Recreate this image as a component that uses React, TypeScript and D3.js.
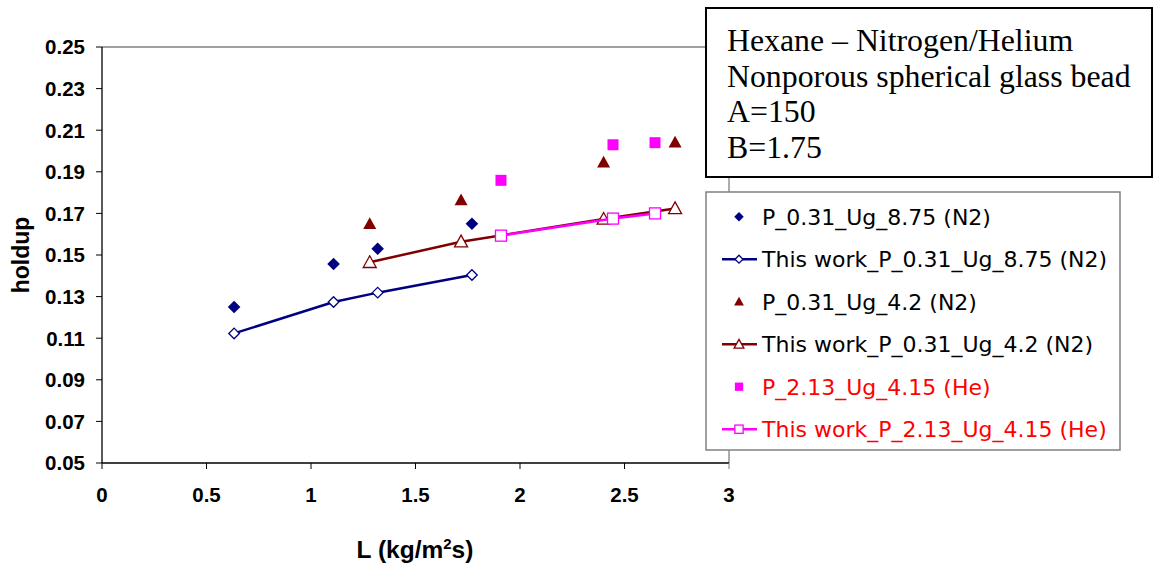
import React from "react";
import * as d3 from "d3";

const xTicks = [0, 0.5, 1, 1.5, 2, 2.5, 3];
const yTicks = [0.05, 0.07, 0.09, 0.11, 0.13, 0.15, 0.17, 0.19, 0.21, 0.23, 0.25];

const n2HighX = [0.632, 1.108, 1.319, 1.77];
const n2HighExp = [0.125, 0.1457, 0.153, 0.165];
const n2HighModel = [0.1123, 0.1274, 0.1319, 0.1404];

const n2LowX = [1.281, 1.718, 2.4, 2.742];
const n2LowExp = [0.165, 0.1764, 0.1946, 0.2042];
const n2LowModel = [0.1465, 0.1564, 0.1673, 0.1724];

const heX = [1.909, 2.445, 2.646];
const heExp = [0.1859, 0.203, 0.204];
const heModel = [0.1593, 0.1675, 0.17];

const legendLabels = [
  "P_0.31_Ug_8.75 (N2)",
  "This work_P_0.31_Ug_8.75 (N2)",
  "P_0.31_Ug_4.2 (N2)",
  "This work_P_0.31_Ug_4.2 (N2)",
  "P_2.13_Ug_4.15 (He)",
  "This work_P_2.13_Ug_4.15 (He)",
];
const infoLines = ["Hexane \u2013 Nitrogen/Helium", "Nonporous spherical glass bead", "A=150", "B=1.75"];

const NAVY = "#000080";
const MAROON = "#800000";
const MAGENTA = "#FF00FF";

const W = 1157, H = 565;
const x = d3.scaleLinear().domain([0, 3]).range([102, 729]);
const y = d3.scaleLinear().domain([0.05, 0.25]).range([463, 47]);

type Shape = "diamond" | "triangle" | "square";
function Marker({ shape, cx, cy, filled, color, s = 1 }: { shape: Shape; cx: number; cy: number; filled: boolean; color: string; s?: number }) {
  const fill = filled ? color : "white";
  const sw = filled ? 0 : 1.3;
  if (shape === "diamond") {
    const r = (filled ? 6.3 : 5.3) * s;
    return <path d={`M${cx},${cy - r}L${cx + r},${cy}L${cx},${cy + r}L${cx - r},${cy}Z`} fill={fill} stroke={color} strokeWidth={sw} />;
  }
  if (shape === "triangle") {
    const r = 6.5 * s;
    return <path d={`M${cx},${cy - r}L${cx + r},${cy + r * 0.8}L${cx - r},${cy + r * 0.8}Z`} fill={fill} stroke={color} strokeWidth={sw} />;
  }
  const r = 5.5 * s;
  return <rect x={cx - r} y={cy - r} width={2 * r} height={2 * r} fill={fill} stroke={color} strokeWidth={sw} />;
}

const series = [
  { xs: n2HighX, ys: n2HighExp, shape: "diamond" as Shape, color: NAVY, line: false },
  { xs: n2HighX, ys: n2HighModel, shape: "diamond" as Shape, color: NAVY, line: true },
  { xs: n2LowX, ys: n2LowExp, shape: "triangle" as Shape, color: MAROON, line: false },
  { xs: n2LowX, ys: n2LowModel, shape: "triangle" as Shape, color: MAROON, line: true },
  { xs: heX, ys: heExp, shape: "square" as Shape, color: MAGENTA, line: false },
  { xs: heX, ys: heModel, shape: "square" as Shape, color: MAGENTA, line: true },
];

export default function App() {
  const lineGen = d3.line<[number, number]>().x((d) => x(d[0])).y((d) => y(d[1]));
  const axisFont = "'Liberation Sans', Arial, sans-serif";
  return (
    <div style={{ position: "absolute", left: 0, top: 0 }}>
      <svg width={W} height={H} style={{ display: "block", background: "white" }}>
        {/* plot frame */}
        <line x1={x(0)} x2={x(3)} y1={y(0.25)} y2={y(0.25)} stroke="#808080" strokeWidth={1.3} />
        <line x1={x(3)} x2={x(3)} y1={y(0.25)} y2={y(0.05)} stroke="#808080" strokeWidth={1.3} />
        {/* series */}
        {series.map((s, i) => {
          const pts = s.xs.map((v, j) => [v, s.ys[j]] as [number, number]);
          return (
            <g key={i}>
              {s.line && <path d={lineGen(pts) || ""} fill="none" stroke={s.color} strokeWidth={2.5} />}
              {pts.map((p, j) => (
                <Marker key={j} shape={s.shape} cx={x(p[0])} cy={y(p[1])} filled={!s.line} color={s.color} />
              ))}
            </g>
          );
        })}
        {/* axes */}
        <line x1={x(0)} x2={x(0)} y1={y(0.25)} y2={y(0.05)} stroke="black" strokeWidth={1.3} />
        <line x1={x(0)} x2={x(3)} y1={y(0.05)} y2={y(0.05)} stroke="black" strokeWidth={1.3} />
        {yTicks.map((t) => (
          <g key={t}>
            <line x1={x(0) - 6} x2={x(0)} y1={y(t)} y2={y(t)} stroke="black" strokeWidth={1} />
            <text x={85} y={y(t)} dy="0.36em" textAnchor="end" fontFamily={axisFont} fontWeight="bold" fontSize={20.5}>
              {t.toFixed(2)}
            </text>
          </g>
        ))}
        {xTicks.map((t) => (
          <g key={t}>
            <line x1={x(t)} x2={x(t)} y1={y(0.05)} y2={y(0.05) + 6} stroke={t === 3 ? "#808080" : "black"} strokeWidth={1} />
            <text x={x(t)} y={502} textAnchor="middle" fontFamily={axisFont} fontWeight="bold" fontSize={20.5}>
              {d3.format("")(t)}
            </text>
          </g>
        ))}
        <text transform={`translate(29,${y(0.15)}) rotate(-90)`} textAnchor="middle" fontFamily={axisFont} fontWeight="bold" fontSize={23}>
          holdup
        </text>
        <text x={415} y={558} textAnchor="middle" fontFamily={axisFont} fontWeight="bold" fontSize={24.5}>
          L (kg/m<tspan dy={-9} fontSize={15}>2</tspan><tspan dy={9}>s)</tspan>
        </text>
        {/* info box */}
        <rect x={706} y={8} width={446} height={169} fill="white" stroke="black" strokeWidth={2} />
        {infoLines.map((l, i) => (
          <text key={i} x={727} y={51 + i * 35.6} fontFamily="'Liberation Serif', 'Times New Roman', serif" fontSize={31.8}>
            {l}
          </text>
        ))}
        {/* legend */}
        <rect x={706} y={192} width={414} height={258} fill="white" stroke="#808080" strokeWidth={1.5} />
        {legendLabels.map((l, i) => {
          const s = series[i];
          const cy = 216.7 + i * 42.5;
          return (
            <g key={i}>
              {s.line && <line x1={722} x2={757} y1={cy} y2={cy} stroke={s.color} strokeWidth={2.5} />}
              <Marker shape={s.shape} cx={739} cy={cy} filled={!s.line} color={s.color} s={0.75} />
              <text x={762} y={cy} dy="0.36em" fontFamily="'DejaVu Sans', Verdana, sans-serif" fontSize={22} fill={i >= 4 ? "#FF0000" : "black"}>
                {l}
              </text>
            </g>
          );
        })}
      </svg>
    </div>
  );
}
